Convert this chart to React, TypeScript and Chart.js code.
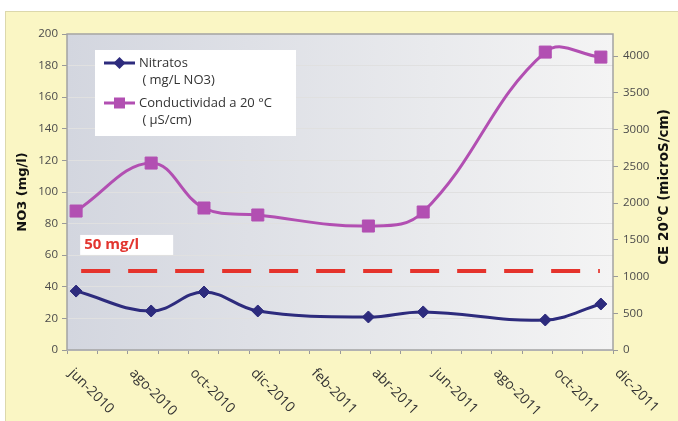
import React, { useEffect, useRef } from 'react';
import { Chart, registerables } from 'chart.js';
Chart.register(...registerables);

// ---- data ----
const sampleDates = ['2010-06-10', '2010-08-25', '2010-10-17', '2010-12-10', '2011-03-30', '2011-05-24', '2011-09-24', '2011-11-19'];
const nitratos = [37.3, 24.7, 36.7, 24.7, 20.9, 24.1, 19.0, 29.1];
const conductividad = [1891, 2544, 1932, 1837, 1687, 1878, 4054, 3986];
const monthLabels = ['jun-2010', 'ago-2010', 'oct-2010', 'dic-2010', 'feb-2011', 'abr-2011', 'jun-2011', 'ago-2011', 'oct-2011', 'dic-2011'];
const leftTicks = [0, 20, 40, 60, 80, 100, 120, 140, 160, 180, 200];
const rightTicks = [0, 500, 1000, 1500, 2000, 2500, 3000, 3500, 4000];
const limitValue = 50;
const limitRange = ['2010-06-15', '2011-11-18'];
const limitLabel = '50 mg/l';
const legendItems = [
  { lines: ['Nitratos', ' ( mg/L NO3)'], color: '#2d2b7d', style: 'diamond' },
  { lines: ['Conductividad a 20 °C', ' ( µS/cm)'], color: '#b24fb2', style: 'square' },
];
const leftTitle = 'NO3 (mg/l)';
const rightTitle = 'CE 20°C (microS/cm)';

// month index counted from jun-2010
function monthIndex(d: string): number {
  const [y, m, day] = d.split('-').map(Number);
  const dim = new Date(y, m, 0).getDate();
  return (y - 2010) * 12 + (m - 6) + (day - 1) / dim;
}
const monthTicks = Array.from({ length: 19 }, (_, i) => i);

const FONT = '"Open Sans", "DejaVu Sans", sans-serif';

const decor = {
  id: 'decor',
  beforeDraw(chart: any) {
    const { ctx, chartArea: a, width, height } = chart;
    ctx.save();
    ctx.fillStyle = '#ffffff';
    ctx.fillRect(0, 0, width, height);
    ctx.fillStyle = '#faf6c4';
    ctx.fillRect(5, 11, width - 5, height - 11);
    ctx.strokeStyle = '#dcd8ac';
    ctx.lineWidth = 1;
    ctx.strokeRect(5.5, 11.5, width, height);
    const g = ctx.createLinearGradient(a.left, 0, a.right, 0);
    g.addColorStop(0, '#d3d6df');
    g.addColorStop(1, '#f4f4f4');
    ctx.fillStyle = g;
    ctx.fillRect(a.left, a.top, a.right - a.left, a.bottom - a.top);
    ctx.restore();
  },
  afterDraw(chart: any) {
    const { ctx, chartArea: a } = chart;
    const xs = chart.scales.x;
    const ys = chart.scales.y;
    ctx.save();
    // plot border
    ctx.strokeStyle = '#a3a3a3';
    ctx.lineWidth = 1.5;
    ctx.strokeRect(a.left, a.top, a.right - a.left, a.bottom - a.top);

    // legend
    const lx = a.left + 28, ly = a.top + 16;
    ctx.fillStyle = '#ffffff';
    ctx.fillRect(lx, ly, 201, 86);
    ctx.font = `13px ${FONT}`;
    ctx.textBaseline = 'middle';
    ctx.textAlign = 'left';
    legendItems.forEach((it, i) => {
      const cy = ly + 13 + i * 40;
      ctx.strokeStyle = it.color;
      ctx.fillStyle = it.color;
      ctx.lineWidth = 3;
      ctx.beginPath();
      ctx.moveTo(lx + 9, cy);
      ctx.lineTo(lx + 40, cy);
      ctx.stroke();
      ctx.beginPath();
      if (it.style === 'diamond') {
        ctx.moveTo(lx + 24.5, cy - 6);
        ctx.lineTo(lx + 30.5, cy);
        ctx.lineTo(lx + 24.5, cy + 6);
        ctx.lineTo(lx + 18.5, cy);
        ctx.closePath();
      } else {
        ctx.rect(lx + 19, cy - 5.5, 11, 11);
      }
      ctx.fill();
      ctx.fillStyle = '#333333';
      ctx.fillText(it.lines[0], lx + 44, cy);
      ctx.fillText(it.lines[1], lx + 44, cy + 17);
    });

    // limit label
    const bx = xs.getPixelForValue(monthIndex(limitRange[0])) - 1;
    const by = ys.getPixelForValue(limitValue + 16.5);
    ctx.fillStyle = '#ffffff';
    ctx.fillRect(bx, by - 10, 93, 20);
    ctx.fillStyle = '#e2352f';
    ctx.font = `bold 15px ${FONT}`;
    ctx.fillText(limitLabel, bx + 4, by);

    // axis titles
    ctx.fillStyle = '#111111';
    ctx.textAlign = 'center';
    ctx.textBaseline = 'middle';
    ctx.font = 'bold 13px "DejaVu Sans", sans-serif';
    ctx.save();
    ctx.translate(23, (a.top + a.bottom) / 2);
    ctx.rotate(-Math.PI / 2);
    ctx.fillText(leftTitle, 0, 0);
    ctx.restore();
    ctx.font = 'bold 13.5px "DejaVu Sans", sans-serif';
    ctx.save();
    ctx.translate(664, (a.top + a.bottom) / 2 - 5);
    ctx.rotate(-Math.PI / 2);
    ctx.fillText(rightTitle, 0, 0);
    ctx.restore();

    // x labels rotated clockwise
    ctx.fillStyle = '#333333';
    ctx.font = `14px ${FONT}`;
    ctx.textAlign = 'left';
    ctx.textBaseline = 'top';
    monthLabels.forEach((lab, i) => {
      const px = xs.getPixelForValue(i * 2);
      ctx.save();
      ctx.translate(px + 9, a.bottom + 16);
      ctx.rotate(Math.PI / 4);
      ctx.fillText(lab, 0, 0);
      ctx.restore();
    });
    ctx.restore();
  },
};

export default function App() {
  const ref = useRef<HTMLCanvasElement>(null);
  useEffect(() => {
    document.body.style.margin = '0';
    const c = ref.current!;
    const chart = new Chart(c, {
      type: 'line',
      data: {
        datasets: [
          {
            label: 'Nitratos',
            data: sampleDates.map((d, i) => ({ x: monthIndex(d), y: nitratos[i] })),
            yAxisID: 'y',
            borderColor: '#2d2b7d',
            backgroundColor: '#2d2b7d',
            borderWidth: 3,
            tension: 0.4,
            pointStyle: 'rectRot',
            pointRadius: 6,
            pointBorderWidth: 1,
          },
          {
            label: 'Conductividad',
            data: sampleDates.map((d, i) => ({ x: monthIndex(d), y: conductividad[i] })),
            yAxisID: 'y1',
            borderColor: '#b24fb2',
            backgroundColor: '#b24fb2',
            borderWidth: 3,
            tension: 0.4,
            pointStyle: 'rect',
            pointRadius: 8.5,
            pointBorderWidth: 1,
          },
          {
            label: 'Limite',
            data: limitRange.map((d) => ({ x: monthIndex(d), y: limitValue })),
            yAxisID: 'y',
            borderColor: '#e5332c',
            borderWidth: 4,
            borderDash: [29, 18],
            borderCapStyle: 'butt',
            pointRadius: 0,
            tension: 0,
          },
        ],
      },
      options: {
        responsive: false,
        animation: false,
        layout: { padding: { top: 34, left: 0, right: 0, bottom: 0 } },
        plugins: { legend: { display: false }, tooltip: { enabled: false } },
        scales: {
          x: {
            type: 'linear',
            min: 0,
            max: 18,
            afterBuildTicks: (s: any) => { s.ticks = monthTicks.map((v) => ({ value: v })); },
            afterFit: (s: any) => { s.height = 71; },
            ticks: { display: false },
            grid: { drawOnChartArea: false, tickLength: 4, tickColor: '#9a9a9a' },
            border: { display: false },
          },
          y: {
            position: 'left',
            min: 0,
            max: 200,
            afterBuildTicks: (s: any) => { s.ticks = leftTicks.map((v) => ({ value: v })); },
            afterFit: (s: any) => { s.width = 67; },
            ticks: { color: '#4a4a4a', font: { family: FONT, size: 11.5 }, padding: 4, callback: (v: any) => String(v) },
            grid: { color: '#e0e0e0', tickLength: 5, tickColor: '#9a9a9a' },
            border: { display: false },
          },
          y1: {
            position: 'right',
            min: 0,
            max: 4300,
            afterBuildTicks: (s: any) => { s.ticks = rightTicks.map((v) => ({ value: v })); },
            afterFit: (s: any) => { s.width = 65; },
            ticks: { color: '#4a4a4a', font: { family: FONT, size: 11.5 }, padding: 5, callback: (v: any) => String(v) },
            grid: { drawOnChartArea: false, tickLength: 5, tickColor: '#9a9a9a' },
            border: { display: false },
          },
        },
      },
      plugins: [decor],
    } as any);
    return () => chart.destroy();
  }, []);
  return <canvas ref={ref} width={678} height={421} style={{ display: 'block' }} />;
}
